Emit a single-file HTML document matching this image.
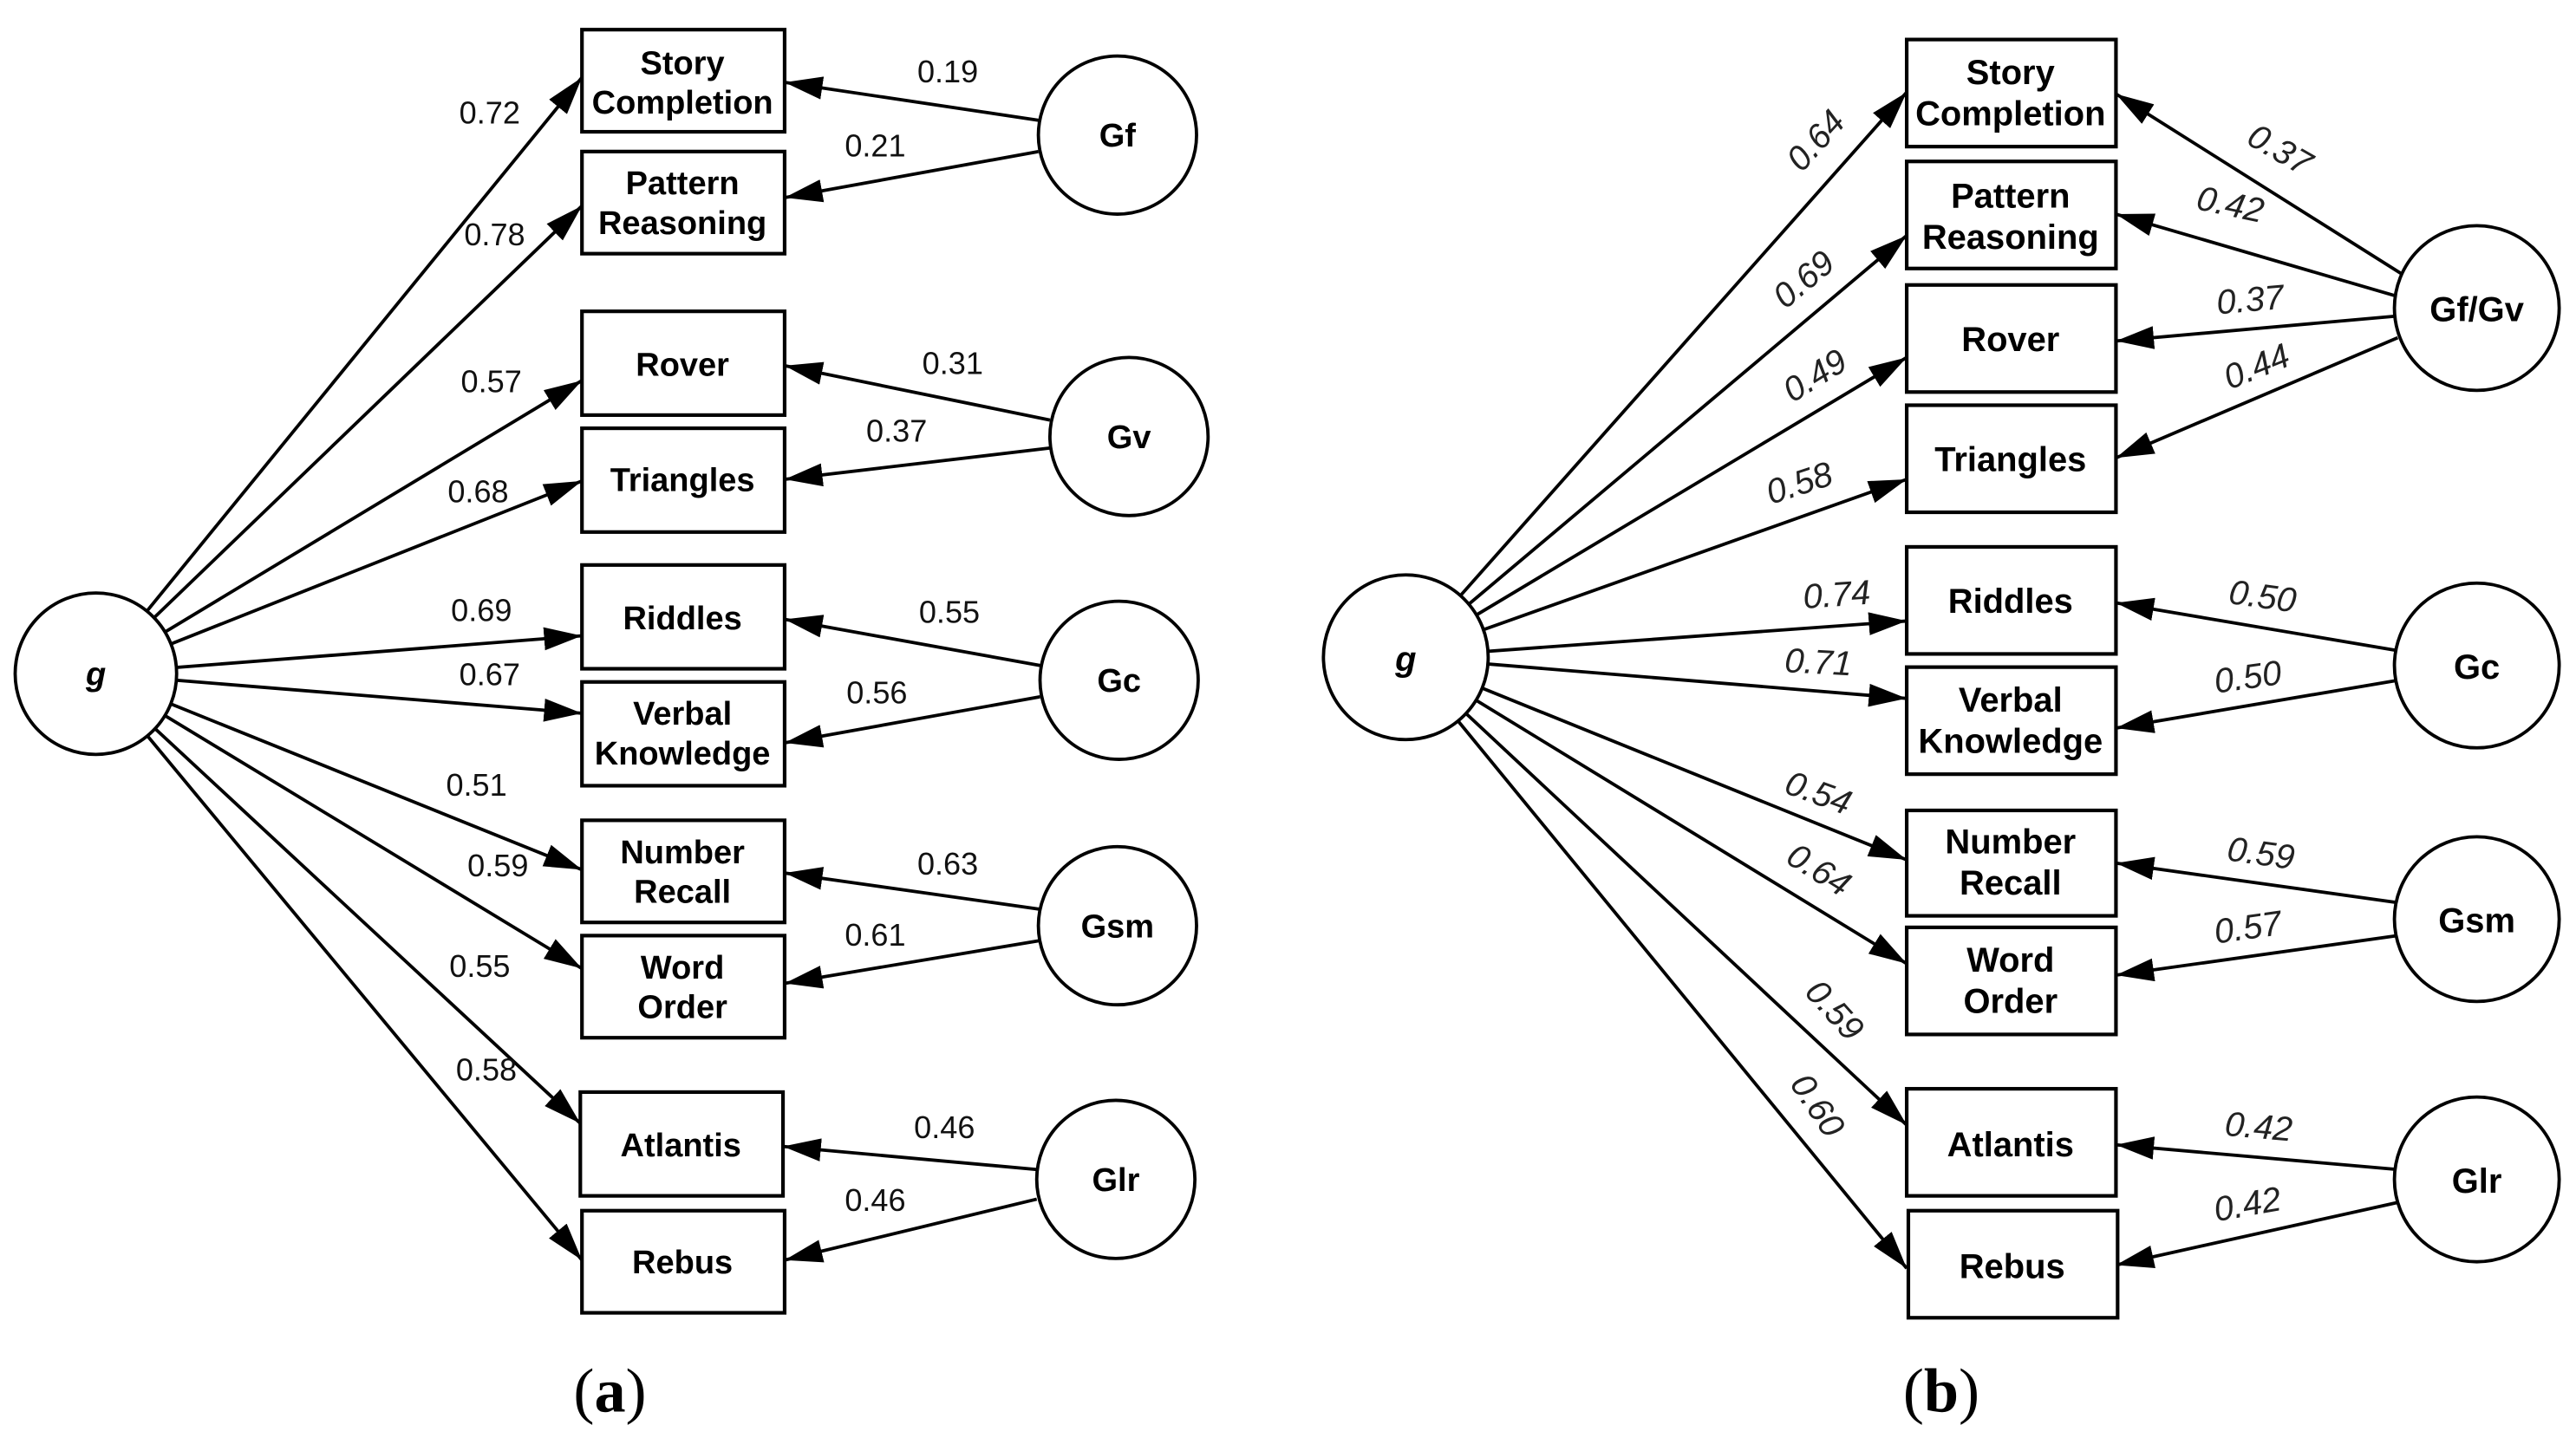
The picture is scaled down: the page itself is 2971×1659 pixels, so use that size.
<!DOCTYPE html>
<html><head><meta charset="utf-8"><style>
html,body{margin:0;padding:0;background:#fff;}
svg{display:block;}
.b{font-family:"Liberation Sans",sans-serif;font-weight:bold;font-size:20px;text-anchor:middle;fill:#000;}
.bn{font-family:"Liberation Sans Narrow","Liberation Sans",sans-serif;font-weight:bold;font-size:21px;text-anchor:middle;fill:#000;}
.n{font-family:"Liberation Sans",sans-serif;font-size:19px;text-anchor:middle;fill:#111;}
.ni{font-family:"Liberation Sans Narrow","Liberation Sans",sans-serif;font-style:italic;font-size:21px;text-anchor:middle;fill:#222;}
.cap{font-family:"Liberation Serif",serif;font-size:38px;text-anchor:middle;}
line{stroke:#000;stroke-width:2;}
rect{fill:#fff;stroke:#000;stroke-width:2.2;}
circle{fill:#fff;stroke:#000;stroke-width:2;}
</style></head><body>
<svg width="2971" height="1659" viewBox="0 0 1563 873" xmlns="http://www.w3.org/2000/svg">
<defs><marker id="a" markerUnits="userSpaceOnUse" markerWidth="24" markerHeight="16" refX="23" refY="7" orient="auto"><path d="M0,0 L23,7 L0,14 z" fill="#000"/></marker></defs>
<g marker-end="url(#a)">
<line x1="58" y1="409" x2="353" y2="47"/>
<line x1="58" y1="409" x2="353" y2="125"/>
<line x1="58" y1="409" x2="353" y2="231"/>
<line x1="58" y1="409" x2="353" y2="292"/>
<line x1="58" y1="409" x2="353" y2="386"/>
<line x1="58" y1="409" x2="353" y2="433"/>
<line x1="58" y1="409" x2="353" y2="528"/>
<line x1="58" y1="409" x2="353" y2="588"/>
<line x1="58" y1="409" x2="352" y2="682"/>
<line x1="58" y1="409" x2="353" y2="765"/>
<line x1="630" y1="73" x2="476" y2="50"/>
<line x1="630" y1="92" x2="476" y2="120"/>
<line x1="637" y1="255" x2="476" y2="222"/>
<line x1="637" y1="272" x2="476" y2="291"/>
<line x1="631" y1="404" x2="476" y2="376"/>
<line x1="631" y1="423" x2="476" y2="451"/>
<line x1="631" y1="552" x2="476" y2="530"/>
<line x1="631" y1="571" x2="476" y2="597"/>
<line x1="629" y1="710" x2="475" y2="696"/>
<line x1="629" y1="728" x2="476" y2="765"/>
<line x1="853" y1="399" x2="1157" y2="56"/>
<line x1="853" y1="399" x2="1157" y2="143"/>
<line x1="853" y1="399" x2="1157" y2="217"/>
<line x1="853" y1="399" x2="1157" y2="291"/>
<line x1="853" y1="399" x2="1157" y2="377"/>
<line x1="853" y1="399" x2="1157" y2="424"/>
<line x1="853" y1="399" x2="1157" y2="522"/>
<line x1="853" y1="399" x2="1157" y2="585"/>
<line x1="853" y1="399" x2="1157" y2="683"/>
<line x1="853" y1="399" x2="1157" y2="770"/>
<line x1="1457" y1="166" x2="1284" y2="57"/>
<line x1="1455" y1="180" x2="1284" y2="130"/>
<line x1="1453" y1="192" x2="1284" y2="207"/>
<line x1="1455" y1="205" x2="1284" y2="278"/>
<line x1="1455" y1="395" x2="1284" y2="366"/>
<line x1="1455" y1="413" x2="1284" y2="442"/>
<line x1="1455" y1="548" x2="1284" y2="524"/>
<line x1="1455" y1="568" x2="1284" y2="592"/>
<line x1="1455" y1="710" x2="1284" y2="695"/>
<line x1="1455" y1="730" x2="1284" y2="768"/>
</g>
<rect x="353" y="18" width="123" height="62"/><text class="b" x="414" y="45">Story</text><text class="b" x="414" y="69">Completion</text>
<rect x="353" y="92" width="123" height="62"/><text class="b" x="414" y="118">Pattern</text><text class="b" x="414" y="142">Reasoning</text>
<rect x="353" y="189" width="123" height="63"/><text class="b" x="414" y="228">Rover</text>
<rect x="353" y="260" width="123" height="63"/><text class="b" x="414" y="298">Triangles</text>
<rect x="353" y="343" width="123" height="63"/><text class="b" x="414" y="382">Riddles</text>
<rect x="353" y="414" width="123" height="63"/><text class="b" x="414" y="440">Verbal</text><text class="b" x="414" y="464">Knowledge</text>
<rect x="353" y="498" width="123" height="62"/><text class="b" x="414" y="524">Number</text><text class="b" x="414" y="548">Recall</text>
<rect x="353" y="568" width="123" height="62"/><text class="b" x="414" y="594">Word</text><text class="b" x="414" y="618">Order</text>
<rect x="352" y="663" width="123" height="63"/><text class="b" x="413" y="702">Atlantis</text>
<rect x="353" y="735" width="123" height="62"/><text class="b" x="414" y="773">Rebus</text>
<circle cx="58" cy="409" r="49"/><text class="b" x="58" y="416" font-style="italic">g</text>
<circle cx="678" cy="82" r="48"/><text class="b" x="678" y="89">Gf</text>
<circle cx="685" cy="265" r="48"/><text class="b" x="685" y="272">Gv</text>
<circle cx="679" cy="413" r="48"/><text class="b" x="679" y="420">Gc</text>
<circle cx="678" cy="562" r="48"/><text class="b" x="678" y="569">Gsm</text>
<circle cx="677" cy="716" r="48"/><text class="b" x="677" y="723">Glr</text>
<text class="n" x="297" y="75">0.72</text><text class="n" x="300" y="149">0.78</text>
<text class="n" x="298" y="238">0.57</text><text class="n" x="290" y="305">0.68</text>
<text class="n" x="292" y="377">0.69</text><text class="n" x="297" y="416">0.67</text>
<text class="n" x="289" y="483">0.51</text><text class="n" x="302" y="532">0.59</text>
<text class="n" x="291" y="593">0.55</text><text class="n" x="295" y="656">0.58</text>
<text class="n" x="575" y="50">0.19</text><text class="n" x="531" y="95">0.21</text>
<text class="n" x="578" y="227">0.31</text><text class="n" x="544" y="268">0.37</text>
<text class="n" x="576" y="378">0.55</text><text class="n" x="532" y="427">0.56</text>
<text class="n" x="575" y="531">0.63</text><text class="n" x="531" y="574">0.61</text>
<text class="n" x="573" y="691">0.46</text><text class="n" x="531" y="735">0.46</text>
<rect x="1157" y="24" width="127" height="65"/><text class="bn" x="1220" y="51">Story</text><text class="bn" x="1220" y="76">Completion</text>
<rect x="1157" y="98" width="127" height="65"/><text class="bn" x="1220" y="126">Pattern</text><text class="bn" x="1220" y="151">Reasoning</text>
<rect x="1157" y="173" width="127" height="65"/><text class="bn" x="1220" y="213">Rover</text>
<rect x="1157" y="246" width="127" height="65"/><text class="bn" x="1220" y="286">Triangles</text>
<rect x="1157" y="332" width="127" height="65"/><text class="bn" x="1220" y="372">Riddles</text>
<rect x="1157" y="405" width="127" height="65"/><text class="bn" x="1220" y="432">Verbal</text><text class="bn" x="1220" y="457">Knowledge</text>
<rect x="1157" y="492" width="127" height="64"/><text class="bn" x="1220" y="518">Number</text><text class="bn" x="1220" y="543">Recall</text>
<rect x="1157" y="563" width="127" height="65"/><text class="bn" x="1220" y="590">Word</text><text class="bn" x="1220" y="615">Order</text>
<rect x="1157" y="661" width="127" height="65"/><text class="bn" x="1220" y="702">Atlantis</text>
<rect x="1158" y="735" width="127" height="65"/><text class="bn" x="1221" y="776">Rebus</text>
<circle cx="853" cy="399" r="50"/><text class="bn" x="853" y="407" font-style="italic">g</text>
<circle cx="1503" cy="187" r="50"/><text class="bn" x="1503" y="195">Gf/Gv</text>
<circle cx="1503" cy="404" r="50"/><text class="bn" x="1503" y="412">Gc</text>
<circle cx="1503" cy="558" r="50"/><text class="bn" x="1503" y="566">Gsm</text>
<circle cx="1503" cy="716" r="50"/><text class="bn" x="1503" y="724">Glr</text>
<text class="ni" transform="translate(1107,90) rotate(-48)">0.64</text>
<text class="ni" transform="translate(1099,175) rotate(-40)">0.69</text>
<text class="ni" transform="translate(1105,234) rotate(-32)">0.49</text>
<text class="ni" transform="translate(1094,300) rotate(-18)">0.58</text>
<text class="ni" transform="translate(1115,368) rotate(-4)">0.74</text>
<text class="ni" transform="translate(1103,409) rotate(3)">0.71</text>
<text class="ni" transform="translate(1101,488) rotate(20)">0.54</text>
<text class="ni" transform="translate(1100,534) rotate(32)">0.64</text>
<text class="ni" transform="translate(1108,618) rotate(48)">0.59</text>
<text class="ni" transform="translate(1097,675) rotate(56)">0.60</text>
<text class="ni" transform="translate(1380,97) rotate(30)">0.37</text>
<text class="ni" transform="translate(1352,131) rotate(12)">0.42</text>
<text class="ni" transform="translate(1366,189) rotate(-5)">0.37</text>
<text class="ni" transform="translate(1372,229) rotate(-22)">0.44</text>
<text class="ni" transform="translate(1372,369) rotate(8)">0.50</text>
<text class="ni" transform="translate(1365,418) rotate(-8)">0.50</text>
<text class="ni" transform="translate(1371,525) rotate(8)">0.59</text>
<text class="ni" transform="translate(1365,570) rotate(-8)">0.57</text>
<text class="ni" transform="translate(1370,691) rotate(5)">0.42</text>
<text class="ni" transform="translate(1365,738) rotate(-10)">0.42</text>
<text class="cap" x="370" y="857">(<tspan font-weight="bold">a</tspan>)</text>
<text class="cap" x="1178" y="857">(<tspan font-weight="bold">b</tspan>)</text>
</svg>
</body></html>
